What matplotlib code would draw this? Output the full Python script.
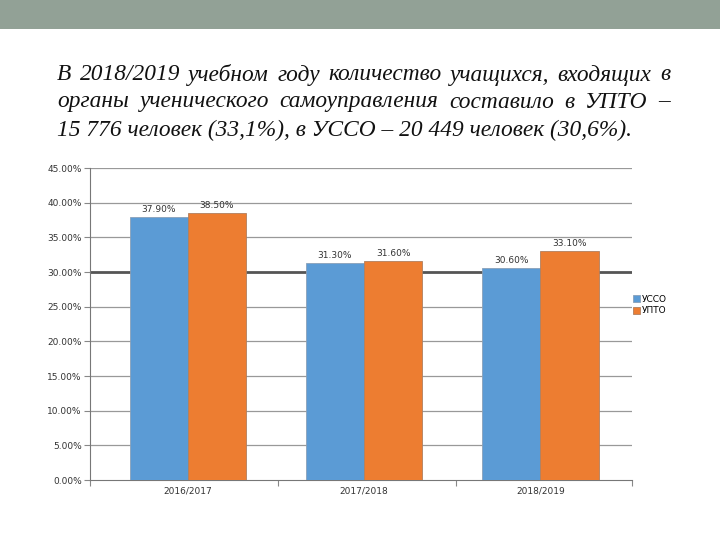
import matplotlib.pyplot as plt
import numpy as np

years = ['2016/2017', '2017/2018', '2018/2019']
ussco = [37.9, 31.3, 30.6]
upto = [38.5, 31.6, 33.1]
series_names = ['УССО', 'УПТО']
yticks = [0, 5, 10, 15, 20, 25, 30, 35, 40, 45]
title_lines = [
    'В 2018/2019 учебном году количество учащихся, входящих в',
    'органы ученического самоуправления составило в УПТО –',
    '15 776 человек (33,1%), в УССО – 20 449 человек (30,6%).',
]

blue = '#5B9BD5'
orange = '#ED7D31'

fig = plt.figure(figsize=(7.2, 5.4), dpi=100)

# grey band at the top of the slide
band = fig.add_axes([0, 1 - 29 / 540, 1, 29 / 540])
band.set_facecolor('#92A196')
band.set_xticks([])
band.set_yticks([])
for s in band.spines.values():
    s.set_visible(False)

# heading, first two lines justified
left_px, right_px = 57, 670
line_y = [75, 102, 130]
fsize = 16.8
renderer = fig.canvas.get_renderer()
for i, line in enumerate(title_lines):
    y = 1 - line_y[i] / 540
    if i == len(title_lines) - 1:
        fig.text(left_px / 720, y, line, fontsize=fsize, style='italic',
                 family='Liberation Serif', va='center', ha='left', color='#111111')
        continue
    words = line.split(' ')
    texts = [fig.text(0, y, w, fontsize=fsize, style='italic', family='Liberation Serif',
                      va='center', ha='left', color='#111111') for w in words]
    widths = [t.get_window_extent(renderer).width for t in texts]
    gap = (right_px - left_px - sum(widths)) / (len(words) - 1)
    x = left_px
    for t, w in zip(texts, widths):
        t.set_x(x / 720)
        x += w + gap

ax = fig.add_axes([90 / 720, 60 / 540, 542 / 720, 312 / 540])
x = np.arange(len(years))
bw = 0.33
b1 = ax.bar(x - bw / 2, ussco, bw, color=blue, edgecolor='#8AA0B8', linewidth=0.6,
            label=series_names[0], zorder=3)
b2 = ax.bar(x + bw / 2, upto, bw, color=orange, edgecolor='#B08060', linewidth=0.6,
            label=series_names[1], zorder=3)
for bars, vals in ((b1, ussco), (b2, upto)):
    for r, v in zip(bars, vals):
        ax.text(r.get_x() + r.get_width() / 2, v + 0.4, f'{v:.2f}%', ha='center',
                va='bottom', fontsize=6.5, color='#333333', zorder=4)

ax.set_xlim(-0.555, 2.52)
ax.set_ylim(0, 45)
ax.set_yticks(yticks)
ax.set_yticklabels([f'{t:.2f}%' for t in yticks])
ax.set_xticks(x)
ax.set_xticklabels(years)
ax.set_xticks([-0.555, 0.51, 1.52, 2.52], minor=True)
ax.tick_params(axis='x', which='major', length=0, labelsize=6.5, colors='#333333', pad=5)
ax.tick_params(axis='x', which='minor', length=4, color='#888888', width=0.8)
ax.tick_params(axis='y', length=4, labelsize=6.5, colors='#333333', color='#888888', pad=2)
for t in yticks:
    lw, col = (2.0, '#555555') if t == 30 else (0.9, '#999999')
    if t > 0:
        ax.axhline(t, color=col, linewidth=lw, zorder=1)
for s in ['top', 'right']:
    ax.spines[s].set_visible(False)
ax.spines['left'].set_color('#777777')
ax.spines['bottom'].set_color('#777777')

ax.legend(loc='upper left', bbox_to_anchor=(628 / 720, 1 - 290 / 540), bbox_transform=fig.transFigure,
          frameon=False, fontsize=6.5, handlelength=0.8, handleheight=0.8,
          handletextpad=0.2, labelspacing=0.3, borderpad=0)

fig.savefig('out.png', dpi=100)
